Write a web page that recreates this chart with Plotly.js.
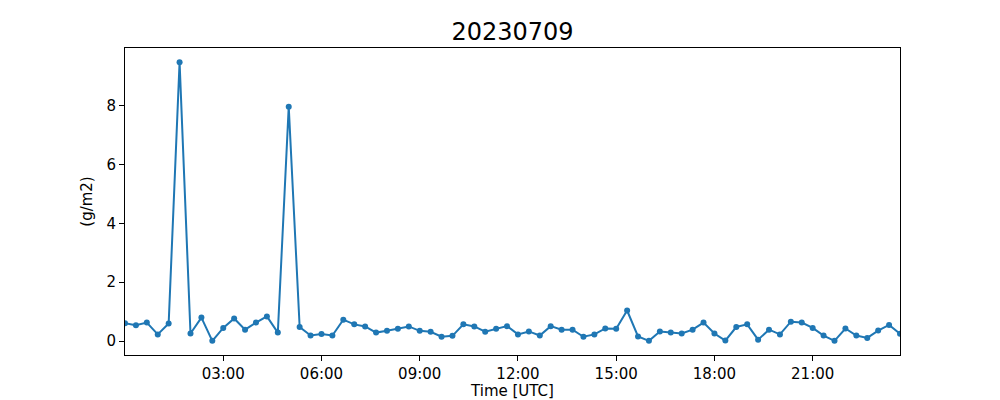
<!DOCTYPE html>
<html>
<head>
<meta charset="utf-8">
<script src="https://cdn.plot.ly/plotly-3.0.1.min.js"></script>
<style>html,body{margin:0;padding:0;background:#fff;}#chart{width:1000px;height:400px;}</style>
</head>
<body>
<div id="chart"></div>
<script>
const times = [
"2023-07-09 00:00","2023-07-09 00:20","2023-07-09 00:40","2023-07-09 01:00","2023-07-09 01:20","2023-07-09 01:40",
"2023-07-09 02:00","2023-07-09 02:20","2023-07-09 02:40","2023-07-09 03:00","2023-07-09 03:20","2023-07-09 03:40",
"2023-07-09 04:00","2023-07-09 04:20","2023-07-09 04:40","2023-07-09 05:00","2023-07-09 05:20","2023-07-09 05:40",
"2023-07-09 06:00","2023-07-09 06:20","2023-07-09 06:40","2023-07-09 07:00","2023-07-09 07:20","2023-07-09 07:40",
"2023-07-09 08:00","2023-07-09 08:20","2023-07-09 08:40","2023-07-09 09:00","2023-07-09 09:20","2023-07-09 09:40",
"2023-07-09 10:00","2023-07-09 10:20","2023-07-09 10:40","2023-07-09 11:00","2023-07-09 11:20","2023-07-09 11:40",
"2023-07-09 12:00","2023-07-09 12:20","2023-07-09 12:40","2023-07-09 13:00","2023-07-09 13:20","2023-07-09 13:40",
"2023-07-09 14:00","2023-07-09 14:20","2023-07-09 14:40","2023-07-09 15:00","2023-07-09 15:20","2023-07-09 15:40",
"2023-07-09 16:00","2023-07-09 16:20","2023-07-09 16:40","2023-07-09 17:00","2023-07-09 17:20","2023-07-09 17:40",
"2023-07-09 18:00","2023-07-09 18:20","2023-07-09 18:40","2023-07-09 19:00","2023-07-09 19:20","2023-07-09 19:40",
"2023-07-09 20:00","2023-07-09 20:20","2023-07-09 20:40","2023-07-09 21:00","2023-07-09 21:20","2023-07-09 21:40",
"2023-07-09 22:00","2023-07-09 22:20","2023-07-09 22:40","2023-07-09 23:00","2023-07-09 23:20","2023-07-09 23:40"
];
const values = [
0.61,0.54,0.63,0.23,0.60,9.47,
0.26,0.80,0.01,0.45,0.77,0.39,
0.63,0.84,0.29,7.96,0.48,0.19,
0.24,0.19,0.73,0.57,0.50,0.29,
0.35,0.42,0.50,0.35,0.32,0.15,
0.18,0.57,0.50,0.32,0.42,0.51,
0.23,0.33,0.19,0.51,0.39,0.39,
0.15,0.23,0.43,0.42,1.04,0.16,
0.01,0.33,0.29,0.26,0.39,0.63,
0.26,0.02,0.48,0.57,0.05,0.39,
0.23,0.66,0.63,0.45,0.19,0.01,
0.43,0.19,0.11,0.36,0.55,0.25
];
const xTickVals = ["2023-07-09 03:00","2023-07-09 06:00","2023-07-09 09:00","2023-07-09 12:00","2023-07-09 15:00","2023-07-09 18:00","2023-07-09 21:00"];
const xTickText = ["03:00","06:00","09:00","12:00","15:00","18:00","21:00"];
const yTickVals = [0,2,4,6,8];
const titleText = "20230709";

const fam = "DejaVu Sans, sans-serif";
const trace = {
  x: times, y: values, type: "scatter", mode: "lines+markers",
  line: {color: "#1f77b4", width: 2},
  marker: {color: "#1f77b4", size: 6},
  hoverinfo: "skip"
};
const layout = {
  width: 1000, height: 400,
  margin: {l: 125, r: 100, t: 48, b: 45},
  paper_bgcolor: "#fff", plot_bgcolor: "#fff",
  font: {family: fam, color: "#000", size: 15},
  showlegend: false,
  title: {text: titleText, font: {family: fam, size: 24, color: "#000"},
          x: 0.5, xanchor: "center", xref: "paper", y: 1 - 32/400, yref: "container", yanchor: "middle"},
  xaxis: {
    type: "date",
    range: ["2023-07-09 00:00", "2023-07-09 23:40"],
    tickmode: "array", tickvals: xTickVals, ticktext: xTickText,
    ticks: "outside", ticklen: 5, tickwidth: 1, tickcolor: "#000",
    showline: true, linecolor: "#000", linewidth: 1, mirror: true,
    showgrid: false, zeroline: false,
    tickfont: {family: fam, size: 15, color: "#000"},
    title: {text: "Time [UTC]", font: {family: fam, size: 15, color: "#000"}, standoff: 6}
  },
  yaxis: {
    range: [-0.47, 9.95],
    tickmode: "array", tickvals: yTickVals,
    ticks: "outside", ticklen: 5, tickwidth: 1, tickcolor: "#000",
    showline: true, linecolor: "#000", linewidth: 1, mirror: true,
    showgrid: false, zeroline: false,
    tickfont: {family: fam, size: 15, color: "#000"},
    title: {text: "(g/m2)", font: {family: fam, size: 15, color: "#000"}, standoff: 10}
  }
};
Plotly.newPlot("chart", [trace], layout, {staticPlot: true, displayModeBar: false});
</script>
</body>
</html>
